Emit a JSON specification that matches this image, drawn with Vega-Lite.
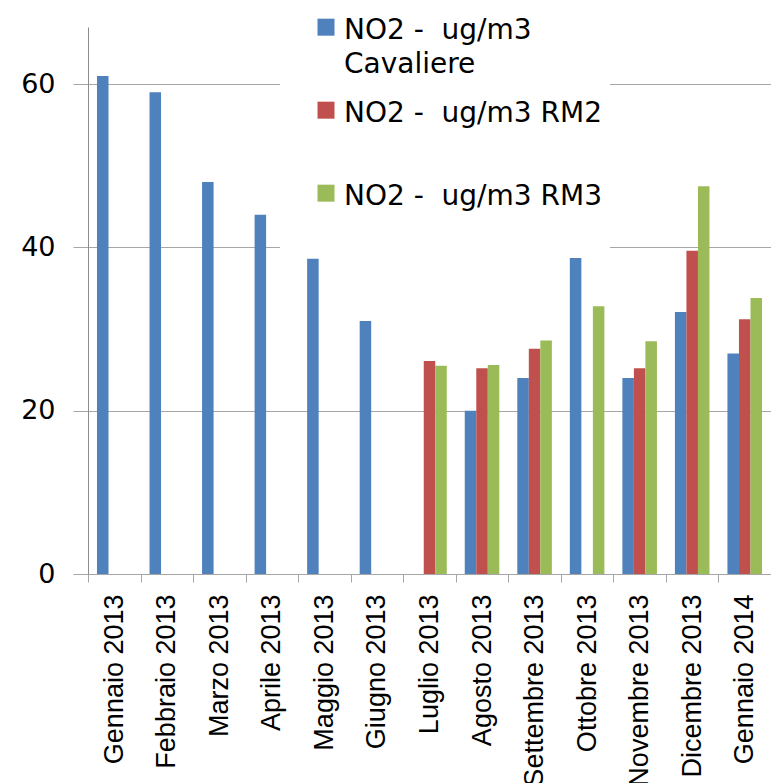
{
  "$schema": "https://vega.github.io/schema/vega-lite/v6.json",
  "autosize": {"type": "none"},
  "padding": {"left": 88, "top": 27, "right": 0, "bottom": 209},
  "width": 683,
  "height": 547,
  "background": "white",
  "config": {"view": {"stroke": null}},
  "data": {"values": [
    {"mese": "Gennaio 2013", "serie": "NO2 -  ug/m3 Cavaliere", "valore": 61.0},
    {"mese": "Febbraio 2013", "serie": "NO2 -  ug/m3 Cavaliere", "valore": 59.0},
    {"mese": "Marzo 2013", "serie": "NO2 -  ug/m3 Cavaliere", "valore": 48.0},
    {"mese": "Aprile 2013", "serie": "NO2 -  ug/m3 Cavaliere", "valore": 44.0},
    {"mese": "Maggio 2013", "serie": "NO2 -  ug/m3 Cavaliere", "valore": 38.6},
    {"mese": "Giugno 2013", "serie": "NO2 -  ug/m3 Cavaliere", "valore": 31.0},
    {"mese": "Luglio 2013", "serie": "NO2 -  ug/m3 RM2", "valore": 26.1},
    {"mese": "Luglio 2013", "serie": "NO2 -  ug/m3 RM3", "valore": 25.5},
    {"mese": "Agosto 2013", "serie": "NO2 -  ug/m3 Cavaliere", "valore": 20.0},
    {"mese": "Agosto 2013", "serie": "NO2 -  ug/m3 RM2", "valore": 25.2},
    {"mese": "Agosto 2013", "serie": "NO2 -  ug/m3 RM3", "valore": 25.6},
    {"mese": "Settembre 2013", "serie": "NO2 -  ug/m3 Cavaliere", "valore": 24.0},
    {"mese": "Settembre 2013", "serie": "NO2 -  ug/m3 RM2", "valore": 27.6},
    {"mese": "Settembre 2013", "serie": "NO2 -  ug/m3 RM3", "valore": 28.6},
    {"mese": "Ottobre 2013", "serie": "NO2 -  ug/m3 Cavaliere", "valore": 38.7},
    {"mese": "Ottobre 2013", "serie": "NO2 -  ug/m3 RM3", "valore": 32.8},
    {"mese": "Novembre 2013", "serie": "NO2 -  ug/m3 Cavaliere", "valore": 24.0},
    {"mese": "Novembre 2013", "serie": "NO2 -  ug/m3 RM2", "valore": 25.2},
    {"mese": "Novembre 2013", "serie": "NO2 -  ug/m3 RM3", "valore": 28.5},
    {"mese": "Dicembre 2013", "serie": "NO2 -  ug/m3 Cavaliere", "valore": 32.1},
    {"mese": "Dicembre 2013", "serie": "NO2 -  ug/m3 RM2", "valore": 39.6},
    {"mese": "Dicembre 2013", "serie": "NO2 -  ug/m3 RM3", "valore": 47.5},
    {"mese": "Gennaio 2014", "serie": "NO2 -  ug/m3 Cavaliere", "valore": 27.0},
    {"mese": "Gennaio 2014", "serie": "NO2 -  ug/m3 RM2", "valore": 31.2},
    {"mese": "Gennaio 2014", "serie": "NO2 -  ug/m3 RM3", "valore": 33.8}
  ]},
  "mark": {"type": "bar"},
  "encoding": {
    "x": {
      "field": "mese", "type": "nominal",
      "sort": ["Gennaio 2013", "Febbraio 2013", "Marzo 2013", "Aprile 2013", "Maggio 2013", "Giugno 2013", "Luglio 2013", "Agosto 2013", "Settembre 2013", "Ottobre 2013", "Novembre 2013", "Dicembre 2013", "Gennaio 2014"],
      "scale": {"paddingInner": 0, "paddingOuter": 0},
      "axis": {
        "title": null, "labelAngle": -90, "labelAlign": "right", "labelBaseline": "middle",
        "labelFont": "Liberation Sans", "labelFontSize": 27, "labelColor": "black",
        "tickBand": "extent", "tickSize": 8, "tickColor": "#a6a6a6", "tickWidth": 1,
        "domainColor": "#a6a6a6", "domainWidth": 1, "labelPadding": 12, "grid": false,
        "labelLimit": 0
      }
    },
    "xOffset": {
      "field": "serie", "type": "nominal",
      "scale": {"domain": ["NO2 -  ug/m3 Cavaliere", "NO2 -  ug/m3 RM2", "NO2 -  ug/m3 RM3"], "paddingInner": 0, "paddingOuter": 0.78}
    },
    "y": {
      "field": "valore", "type": "quantitative",
      "scale": {"domain": [0, 67], "nice": false, "zero": true},
      "axis": {
        "title": null, "values": [0, 20, 40, 60], "tickSize": 15, "tickColor": "#a6a6a6",
        "labelPadding": 18, "labelFont": "DejaVu Sans", "labelFontSize": 27, "labelColor": "black",
        "domainColor": "#8c8c8c", "domainWidth": 1, "grid": true, "gridColor": "#a6a6a6", "gridWidth": 1
      }
    },
    "color": {
      "field": "serie", "type": "nominal",
      "scale": {"domain": ["NO2 -  ug/m3 Cavaliere", "NO2 -  ug/m3 RM2", "NO2 -  ug/m3 RM3"], "range": ["#4f81bd", "#c0504d", "#9bbb59"]},
      "legend": {
        "orient": "none", "legendX": 192, "legendY": -18, "title": null,
        "fillColor": "white", "padding": 8,
        "symbolType": "M-1,-1.45H1V0.55H-1Z", "symbolSize": 289, "symbolStrokeWidth": 0, "symbolOffset": 24,
        "labelFont": "DejaVu Sans", "labelFontSize": 28, "labelColor": "black",
        "labelOffset": 4, "rowPadding": 21, "labelLimit": 0,
        "labelExpr": "datum.value == 'NO2 -  ug/m3 Cavaliere' ? ['NO2 -\u00a0 ug/m3', 'Cavaliere'] : [replace(datum.label, '-  ', '-\u00a0 ') + '\u00a0\u00a0\u00a0', '']",
        "encode": {"labels": {"update": {"lineHeight": {"value": 34}}}}
      }
    }
  }
}
